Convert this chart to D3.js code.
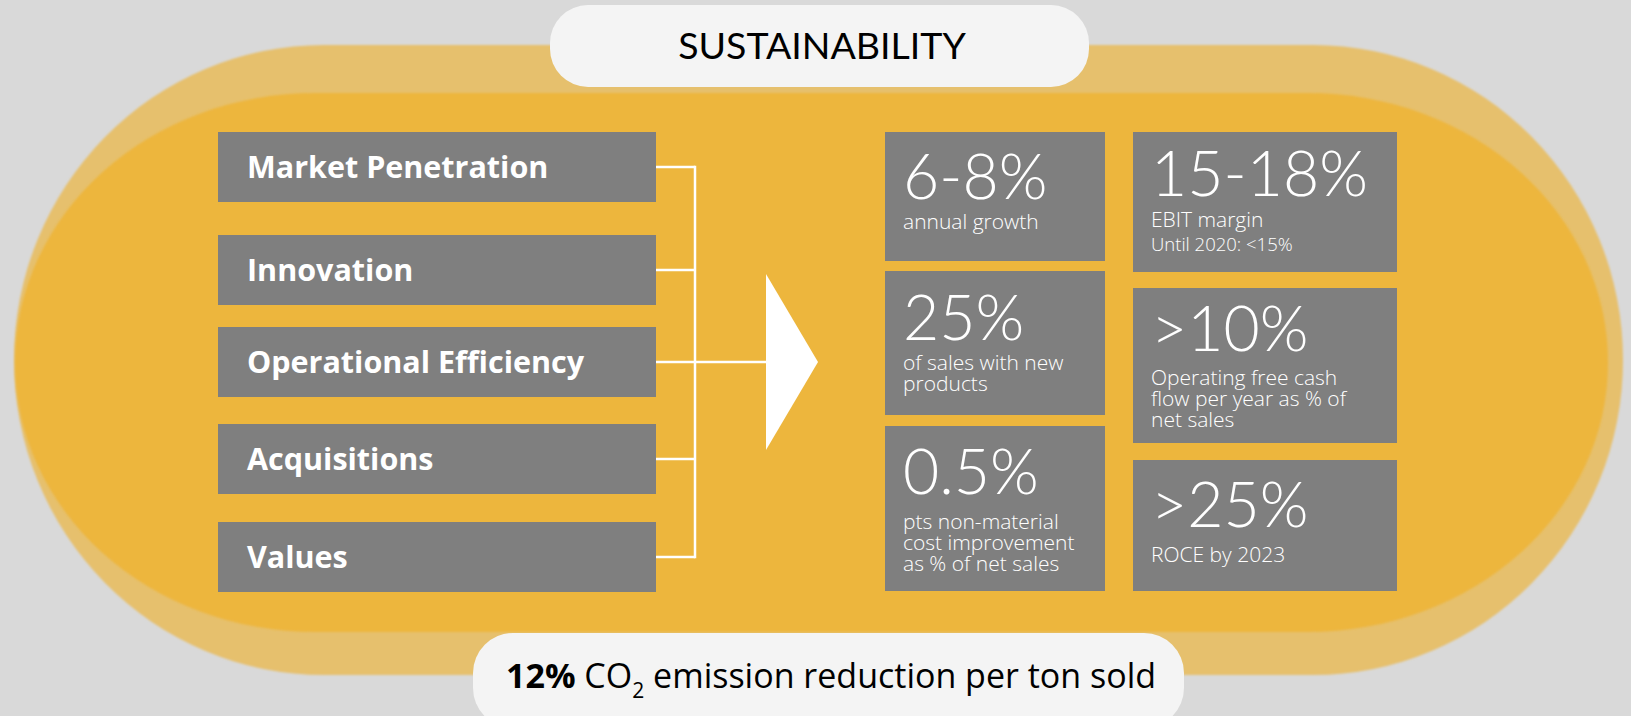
<!DOCTYPE html>
<html>
<head>
<meta charset="utf-8">
<script src="https://cdn.jsdelivr.net/npm/d3@7"></script>
<style>
  html, body { margin: 0; padding: 0; background: #d9d9d9; }
  svg { display: block; font-family: Lato, "Open Sans", sans-serif; }
  .wide { font-family: "Open Sans", Lato, sans-serif; }
</style>
</head>
<body>
<div id="chart"></div>
<script>
// strategy drivers (left column)
const drivers = ["Market Penetration", "Innovation", "Operational Efficiency", "Acquisitions", "Values"];

// financial targets (right grid)
const kpiValues = ["6-8%", "25%", "0.5%", "15-18%", ">10%", ">25%"];
const kpiCaptions = [
    ["annual growth"],
    ["of sales with new", "products"],
    ["pts non-material", "cost improvement", "as % of net sales"],
    ["EBIT margin"],
    ["Operating free cash", "flow per year as % of", "net sales"],
    ["ROCE by 2023"]
];
const kpiNotes = ["", "", "", "Until 2020: <15%", "", ""];

const title = "SUSTAINABILITY";
const footerValue = "12%";
const footerText = ["CO", "2", " emission reduction per ton sold"];

const width = 1631, height = 716;

// layout of the target grid: [x, y, w, h, number baseline, caption baseline]
const kpiLayout = [
    [885, 132, 220, 129, 199, 229],
    [885, 271, 220, 144, 340, 370],
    [885, 426, 220, 165, 494, 529],
    [1133, 132, 264, 140, 196, 227],
    [1133, 288, 264, 155, 351, 385],
    [1133, 460, 264, 131, 527, 562]
];

const svg = d3.select("#chart")
    .append("svg")
    .attr("width", width)
    .attr("height", height);

const defs = svg.append("defs");
defs.append("filter")
    .attr("id", "soft")
    .attr("x", "-5%").attr("y", "-5%")
    .attr("width", "110%").attr("height", "110%")
    .append("feGaussianBlur")
    .attr("stdDeviation", 1.3);

svg.append("rect")
    .attr("width", width)
    .attr("height", height)
    .attr("fill", "#d9d9d9");

// big rounded band (light outer + darker inner)
svg.append("rect")
    .attr("x", 14).attr("y", 45)
    .attr("width", 1609).attr("height", 630)
    .attr("rx", 310).attr("ry", 315)
    .attr("fill", "#e6c06d")
    .attr("filter", "url(#soft)");

svg.append("rect")
    .attr("x", 15).attr("y", 93)
    .attr("width", 1593).attr("height", 539)
    .attr("rx", 300).attr("ry", 269)
    .attr("fill", "#edb63e")
    .attr("filter", "url(#soft)");

// title pill
svg.append("rect")
    .attr("x", 550).attr("y", 5)
    .attr("width", 539).attr("height", 82)
    .attr("rx", 38)
    .attr("fill", "#f4f4f4");

svg.append("text")
    .attr("x", 822)
    .attr("y", 59)
    .attr("text-anchor", "middle")
    .attr("font-size", 37.5)
    .attr("fill", "#000")
    .text(title);

// left driver boxes
const boxX = 218, boxW = 438, boxH = 70;
const y = d3.scaleOrdinal()
    .domain(drivers)
    .range([167, 270, 362, 459, 557]);

const drv = svg.append("g");
drv.selectAll("rect")
    .data(drivers)
    .enter()
    .append("rect")
    .attr("x", boxX)
    .attr("y", d => y(d) - boxH / 2)
    .attr("width", boxW)
    .attr("height", boxH)
    .attr("fill", "#7f7f7f");

drv.selectAll("text")
    .data(drivers)
    .enter()
    .append("text")
    .attr("class", "wide")
    .attr("x", boxX + 29)
    .attr("y", d => y(d) + 11)
    .attr("font-size", 30.5)
    .attr("font-weight", 700)
    .attr("fill", "#fff")
    .text(d => d);

// connectors
const busX = 695, arrowX = 766;
const conn = svg.append("g")
    .attr("stroke", "#fff")
    .attr("stroke-width", 2.5)
    .attr("fill", "none");

conn.selectAll("line.stub")
    .data(drivers)
    .enter()
    .append("line")
    .attr("class", "stub")
    .attr("x1", boxX + boxW)
    .attr("x2", busX)
    .attr("y1", d => y(d))
    .attr("y2", d => y(d));

conn.append("line")
    .attr("x1", busX).attr("x2", busX)
    .attr("y1", y(drivers[0]) - 1.25)
    .attr("y2", y(drivers[drivers.length - 1]) + 1.25);

const midY = y(drivers[2]);
conn.append("line")
    .attr("x1", busX).attr("x2", arrowX)
    .attr("y1", midY).attr("y2", midY);

// arrow head
svg.append("path")
    .attr("d", d3.line()([[arrowX, midY - 88], [818, midY], [arrowX, midY + 88]]) + "Z")
    .attr("fill", "#fff");

// KPI grid
const kpi = svg.selectAll("g.kpi")
    .data(kpiValues.map((v, i) => ({ value: v, caption: kpiCaptions[i], note: kpiNotes[i], box: kpiLayout[i] })))
    .enter()
    .append("g")
    .attr("class", "kpi");

kpi.append("rect")
    .attr("x", d => d.box[0])
    .attr("y", d => d.box[1])
    .attr("width", d => d.box[2])
    .attr("height", d => d.box[3])
    .attr("fill", "#7f7f7f");

// number + caption lines go into one text element
kpi.each(function(d) {
    const tx = d.box[0] + 18;
    const t = d3.select(this).append("text")
        .attr("fill", "#fff")
        .attr("font-weight", 300);
    t.append("tspan")
        .attr("x", tx)
        .attr("y", d.box[4])
        .attr("font-size", 62.5)
        .text(d.value);
    d.caption.forEach((line, i) => {
        t.append("tspan")
            .attr("class", "wide")
            .attr("x", tx)
            .attr("y", d.box[5] + i * 21)
            .attr("font-size", 21)
            .text(line);
    });
    if (d.note) {
        t.append("tspan")
            .attr("class", "wide")
            .attr("x", tx)
            .attr("y", d.box[5] + 24)
            .attr("font-size", 18.5)
            .text(d.note);
    }
});

// footer pill
svg.append("rect")
    .attr("x", 473).attr("y", 633)
    .attr("width", 711).attr("height", 95)
    .attr("rx", 40)
    .attr("fill", "#f4f4f4");

const foot = svg.append("text")
    .attr("class", "wide")
    .attr("x", 506)
    .attr("y", 688)
    .attr("font-size", 34)
    .attr("fill", "#000");
foot.append("tspan").attr("font-weight", 700).text(footerValue);
foot.append("tspan").text(" " + footerText[0]);
foot.append("tspan").attr("font-size", 21).attr("dy", 10).text(footerText[1]);
foot.append("tspan").attr("dy", -10).text(footerText[2]);
</script>
</body>
</html>
